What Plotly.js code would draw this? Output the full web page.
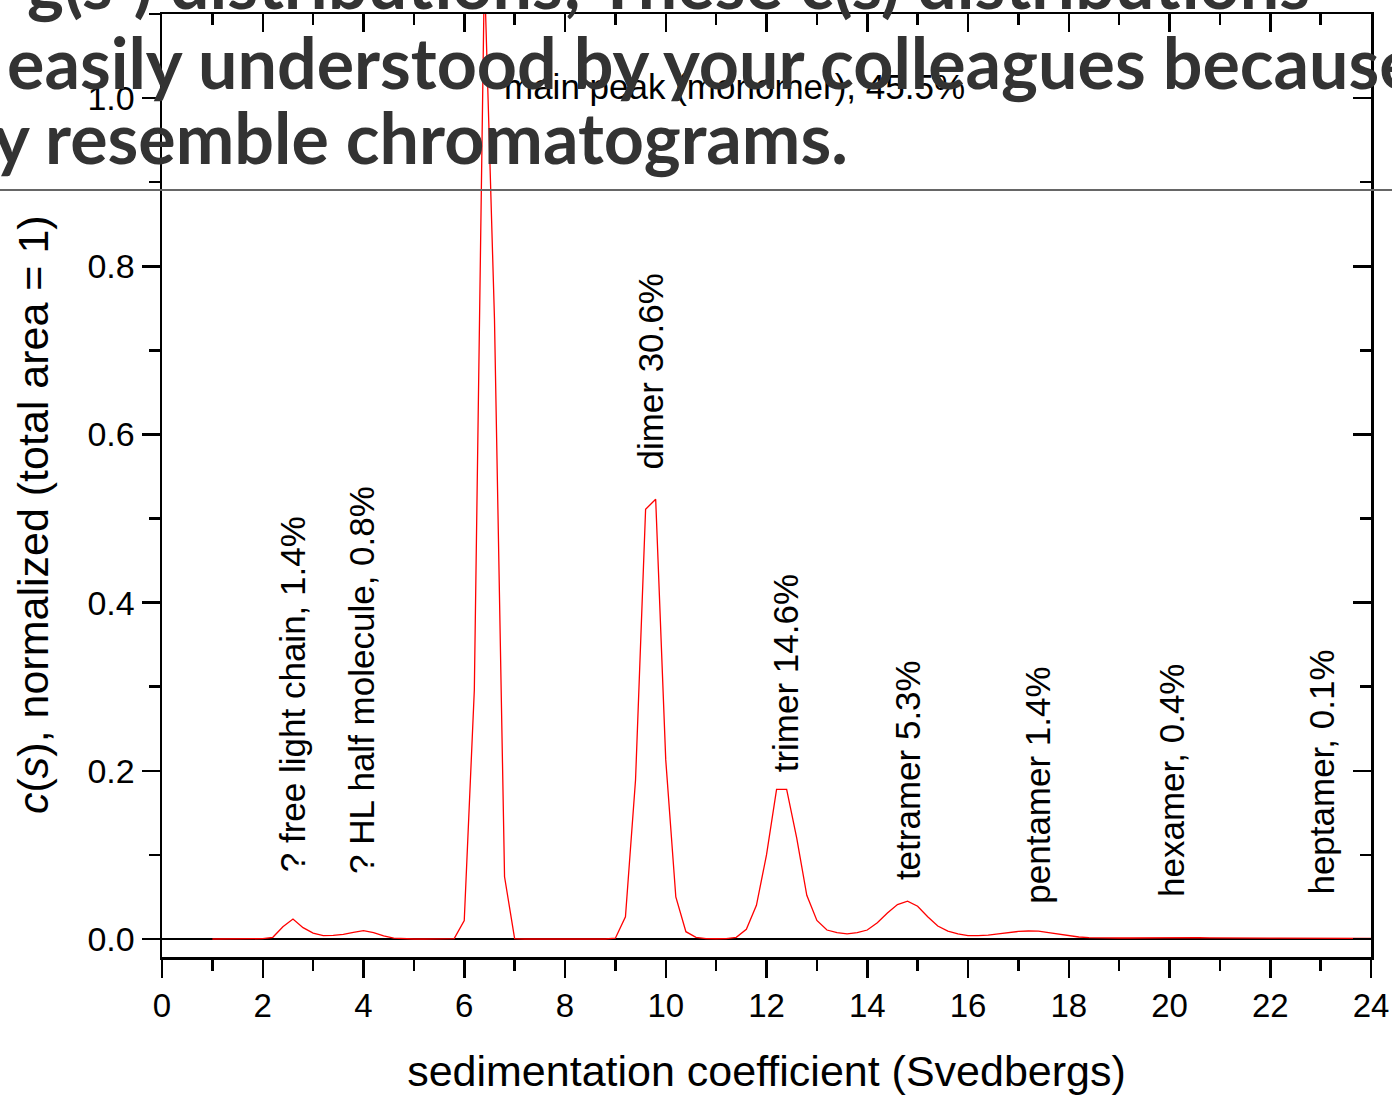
<!DOCTYPE html>
<html><head><meta charset="utf-8">
<script src="https://cdn.plot.ly/plotly-3.0.1.min.js"></script>
<style>html,body{margin:0;padding:0;background:#fff;}#chart{width:1392px;height:1096px;}</style>
</head><body><div id="chart"></div>
<script>
// sedimentation coefficient (S)
const sedimentation = [1,1.2,1.4,1.6,1.8,2,2.2,2.4,2.6,2.8,3,3.2,3.4,3.6,3.8,4,4.2,4.4,4.6,4.8,5,5.2,5.4,5.6,5.8,6,6.2,6.4,6.6,6.8,7,7.2,7.4,7.6,7.8,8,8.2,8.4,8.6,8.8,9,9.2,9.4,9.6,9.8,10,10.2,10.4,10.6,10.8,11,11.2,11.4,11.6,11.8,12,12.2,12.4,12.6,12.8,13,13.2,13.4,13.6,13.8,14,14.2,14.4,14.6,14.8,15,15.2,15.4,15.6,15.8,16,16.2,16.4,16.6,16.8,17,17.2,17.4,17.6,17.8,18,18.2,18.4,18.6,18.8,19,19.2,19.4,19.6,19.8,20,20.2,20.4,20.6,20.8,21,21.2,21.4,21.6,21.8,22,22.2,22.4,22.6,22.8,23,23.2,23.4,23.6,23.8,24];
// c(s), normalized (total area = 1)
const cNormalized = [0,0,0,0,0,0.0004,0.002,0.0146,0.0238,0.0135,0.007,0.004,0.0043,0.0055,0.008,0.0099,0.0075,0.0036,0.001,0.0003,0,0,0,0,0.0005,0.022,0.296,1.15,0.737,0.074,0.0004,0,0,0,0,0,0,0,0,0,0.001,0.0265,0.189,0.511,0.523,0.213,0.05,0.0087,0.002,0.0005,0.0003,0.0005,0.002,0.0115,0.04,0.1,0.178,0.178,0.12,0.052,0.022,0.0107,0.0075,0.006,0.0075,0.0107,0.0194,0.031,0.041,0.045,0.039,0.0265,0.0155,0.0095,0.006,0.004,0.004,0.0045,0.006,0.0078,0.009,0.0095,0.0093,0.0075,0.0056,0.0036,0.0024,0.0017,0.0013,0.0012,0.0012,0.0012,0.0013,0.0015,0.0018,0.0021,0.0022,0.002,0.0017,0.0014,0.0012,0.0011,0.001,0.001,0.001,0.001,0.001,0.001,0.001,0.0011,0.0011,0.0011,0.001,0.0009,0.0008,0.0008];

const peakNames = ["? free light chain, 1.4%","? HL half molecule, 0.8%","main peak (monomer), 45.5%","dimer 30.6%","trimer 14.6%","tetramer 5.3%","pentamer 1.4%","hexamer, 0.4%","heptamer, 0.1%"];
const peakLabelS = [2.58,3.97,6.75,9.69,12.37,14.79,17.39,20.05,23.01];
const peakLabelC = [0.077,0.075,1.0135,0.556,0.196,0.0677,0.039,0.047,0.05];

const xTickVals = [0,2,4,6,8,10,12,14,16,18,20,22,24];
const xTickText = ["0","2","4","6","8","10","12","14","16","18","20","22","24"];
const yTickVals = [0,0.2,0.4,0.6,0.8,1.0];
const yTickText = ["0.0","0.2","0.4","0.6","0.8","1.0"];

const slideLines = ["g(s<sup>*</sup>) distributions; These c(s) distributions","easily understood by your colleagues because","they resemble chromatograms."];

const W = 1392, H = 1096, ML = 162, MR = 21, MT = 14, MB = 139;
const PW = W - ML - MR, PH = H - MT - MB;
const px2paperX = p => (p - ML) / PW;
const py2paperY = p => (H - MB - p) / PH;

const AX = "Liberation Sans, Arial, sans-serif";
const SLIDE = "Lato, Noto Sans, sans-serif";

// size slide font to the reference width
const cv = document.createElement('canvas').getContext('2d');
cv.font = 'bold 100px Lato';
const w100 = cv.measureText('easily understood by your colleagues becaus').width;
const slideSize = Math.round(100 * 1380 / w100);
cv.font = 'bold ' + slideSize + 'px Lato';
const theyW = cv.measureText('they ').width;

const traces = [
  {x: sedimentation, y: cNormalized, type:'scatter', mode:'lines',
   line:{color:'#ff0000', width:1.3}, hoverinfo:'skip', showlegend:false},
  {x:[0], y:[0], xaxis:'x2', yaxis:'y2', type:'scatter', mode:'none', hoverinfo:'skip', showlegend:false}
];

const annotations = peakNames.map((t,i)=> i===2 ? {
  x: peakLabelS[i], y: peakLabelC[i], xref:'x', yref:'y', text:t, showarrow:false,
  xanchor:'left', yanchor:'middle', font:{family:AX, size:35, color:'#000'}
} : {
  x: peakLabelS[i], y: peakLabelC[i], xref:'x', yref:'y', text:t, showarrow:false, textangle:-90,
  xanchor:'center', yanchor:'bottom', font:{family:AX, size:35, color:'#000'}
});

// y axis title (placed as in the reference, slightly below the axis centre)
annotations.push({
  xref:'paper', yref:'paper', x:px2paperX(33), y:py2paperY(515), xanchor:'center', yanchor:'middle',
  textangle:-90, showarrow:false, text:'<i>c</i>(<i>s</i>), normalized (total area = 1)',
  font:{family:AX, size:43, color:'#000'}
});

const slideBase = [10, 90, 165];
const slideLeft = [25, 5, 45 - theyW];
slideLines.forEach((t,i)=>{
  annotations.push({
    xref:'paper', yref:'paper', x: px2paperX(slideLeft[i]), y: py2paperY(slideBase[i] + 0.213*slideSize + 1),
    xanchor:'left', yanchor:'bottom', text:'<b>'+t+'</b>', showarrow:false,
    font:{family:SLIDE, size:slideSize, color:'#333333'}
  });
});

const axCommon = {showgrid:false, linecolor:'#000', linewidth:2.5, showline:true, tickcolor:'#000', tickwidth:2.5};

const layout = {
  width:W, height:H, margin:{l:ML, r:MR, t:MT, b:MB, autoexpand:false},
  paper_bgcolor:'#fff', plot_bgcolor:'#fff', showlegend:false,
  xaxis: Object.assign({}, axCommon, {range:[0,24], tickmode:'array', tickvals:xTickVals, ticktext:xTickText,
    ticks:'outside', ticklen:18, zeroline:false,
    minor:{dtick:1, tick0:0, ticks:'outside', ticklen:11, tickwidth:2.5, tickcolor:'#000', showgrid:false},
    tickfont:{family:AX, size:33, color:'#000'},
    title:{text:'sedimentation coefficient (Svedbergs)', font:{family:AX, size:43, color:'#000'}, standoff:33}}),
  yaxis: Object.assign({}, axCommon, {range:[-0.0214,1.1], tickmode:'array', tickvals:yTickVals, ticktext:yTickText,
    ticks:'outside', ticklen:18, zeroline:true, zerolinecolor:'#000', zerolinewidth:2.5,
    minor:{dtick:0.1, tick0:0, ticks:'outside', ticklen:11, tickwidth:2.5, tickcolor:'#000', showgrid:false},
    tickfont:{family:AX, size:34, color:'#000'}}),
  xaxis2: Object.assign({}, axCommon, {overlaying:'x', side:'top', range:[0,24], tickmode:'array', tickvals:xTickVals,
    ticks:'inside', ticklen:18, showticklabels:false, zeroline:false,
    minor:{dtick:1, tick0:0, ticks:'inside', ticklen:11, tickwidth:2.5, tickcolor:'#000', showgrid:false}}),
  yaxis2: Object.assign({}, axCommon, {overlaying:'y', side:'right', range:[-0.0214,1.1], tickmode:'array', tickvals:yTickVals,
    ticks:'inside', ticklen:18, showticklabels:false, zeroline:false,
    minor:{dtick:0.1, tick0:0, ticks:'inside', ticklen:11, tickwidth:2.5, tickcolor:'#000', showgrid:false}}),
  shapes:[{type:'line', xref:'paper', yref:'paper', x0:px2paperX(0), x1:px2paperX(W), y0:py2paperY(190), y1:py2paperY(190),
    line:{color:'#666666', width:2}}],
  annotations: annotations
};

Plotly.newPlot('chart', traces, layout, {staticPlot:true, displayModeBar:false});
</script>
</body></html>
